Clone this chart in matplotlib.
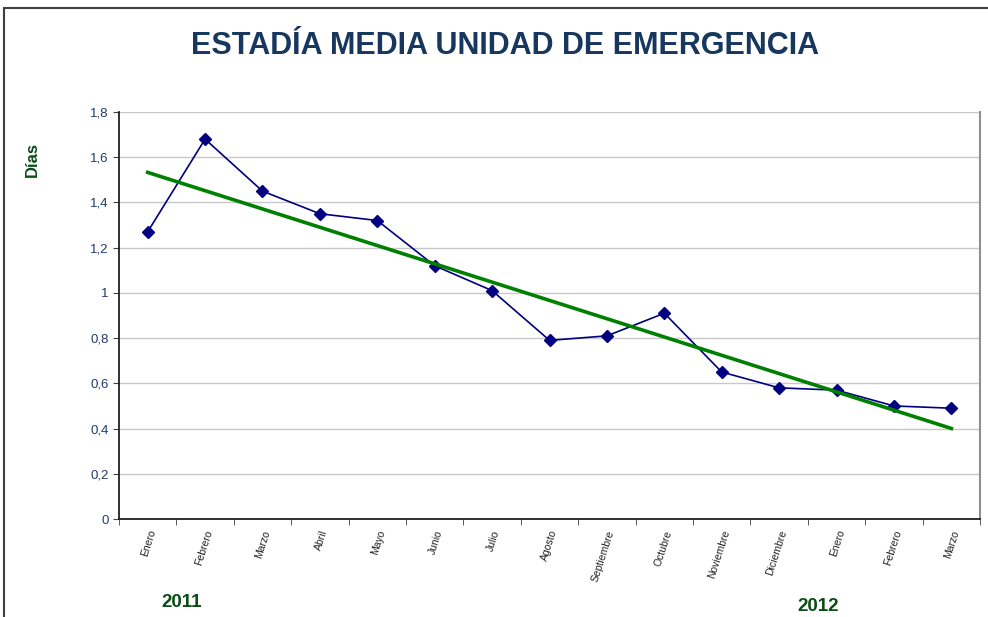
import numpy as np
import matplotlib
matplotlib.use('Agg')
import matplotlib.pyplot as plt
from matplotlib.patches import Rectangle
from matplotlib.ticker import FixedLocator, FuncFormatter

plt.rcParams['font.family'] = ['Liberation Sans', 'DejaVu Sans']

# ---------------------------------------------------------------------------
# Data
# ---------------------------------------------------------------------------
months = ['Enero', 'Febrero', 'Marzo', 'Abril', 'Mayo', 'Junio', 'Julio',
          'Agosto', 'Septiembre', 'Octubre', 'Noviembre', 'Diciembre',
          'Enero', 'Febrero', 'Marzo']
estadia = [1.27, 1.68, 1.45, 1.35, 1.32, 1.12, 1.01, 0.79, 0.81, 0.91,
           0.65, 0.58, 0.57, 0.50, 0.49]
y_ticks = [0, 0.2, 0.4, 0.6, 0.8, 1.0, 1.2, 1.4, 1.6, 1.8]

NAVY = '#000080'
TITLE_BLUE = '#17375E'
DARK_GREEN = '#0B4D14'

x = np.arange(1, len(months) + 1)
slope, intercept = np.polyfit(x, estadia, 1)
trend = slope * x + intercept

fig = plt.figure(figsize=(9.88, 6.17), dpi=100)
ax = fig.add_axes([0.1204, 0.1588, 0.8716, 0.6597])

# outer chart frame
fig.patches.append(Rectangle((4 / 988, -0.05), 1.2, 1 - 8 / 617 + 0.05,
                             transform=fig.transFigure, fill=False,
                             edgecolor='#404040', lw=1.5))

ax.plot(x, estadia, color=NAVY, lw=1.2, marker='D', ms=6.5,
        markerfacecolor=NAVY, markeredgecolor=NAVY, zorder=3)
ax.plot([x[0], x[-1]], [trend[0], trend[-1]], color='#008000', lw=2.6, zorder=4)

ax.set_xlim(0.5, len(months) + 0.5)
ax.set_ylim(0, 1.8)
ax.yaxis.set_major_locator(FixedLocator(y_ticks))
ax.yaxis.set_major_formatter(FuncFormatter(
    lambda v, p: ('%g' % round(v, 1)).replace('.', ',')))
ax.grid(axis='y', color='#C8C8C8', lw=1)
ax.set_axisbelow(True)

ax.set_xticks(x)
ax.set_xticklabels(months, rotation=72, ha='right', va='top',
                   rotation_mode='anchor', fontsize=7.5, color='#222222')
ax.tick_params(axis='x', length=0, pad=7)
ax.set_xticks(np.arange(0.5, len(months) + 1), minor=True)
ax.tick_params(axis='x', which='minor', length=4, color='#404040')
ax.tick_params(axis='y', length=4, labelsize=9.5, labelcolor='#1F3B6E',
               color='#404040')

for s in ['left', 'bottom']:
    ax.spines[s].set_color('#202020')
    ax.spines[s].set_linewidth(1.3)
ax.spines['top'].set_visible(False)
ax.spines['right'].set_color('#909090')
ax.spines['right'].set_linewidth(1.5)

fig.text(0.511, 0.925, 'ESTADÍA MEDIA UNIDAD DE EMERGENCIA', ha='center',
         va='center', fontsize=22, fontweight='bold', color=TITLE_BLUE)
fig.text(0.033, 0.741, 'Días', rotation=90, ha='center', va='center',
         fontsize=12, fontweight='bold', color=DARK_GREEN)
fig.text(0.184, 0.023, '2011', ha='center', va='center', fontsize=13.5,
         fontweight='bold', color=DARK_GREEN)
fig.text(0.828, 0.017, '2012', ha='center', va='center', fontsize=13.5,
         fontweight='bold', color=DARK_GREEN)

fig.savefig('out.png', dpi=100)
